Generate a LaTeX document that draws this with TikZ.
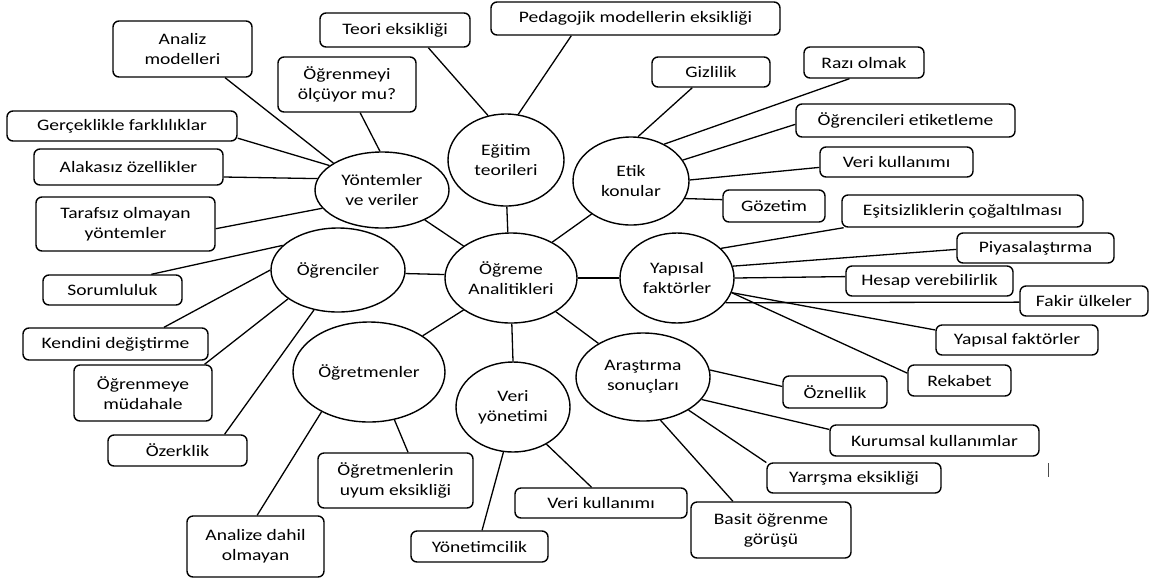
\documentclass[tikz,border=0pt]{standalone}
\usepackage{fontspec}
\setmainfont{Carlito}[FakeStretch=1.22]
\usetikzlibrary{shapes.geometric}
\tikzset{
  ell/.style={ellipse, draw, line width=1.4pt, inner sep=0pt, align=center, font=\fontsize{16}{20}\selectfont},
  box/.style={rectangle, rounded corners=6pt, draw, line width=1.4pt, inner sep=0pt, align=center, font=\fontsize{16}{20}\selectfont},
  link/.style={line width=1.3pt},
}
\begin{document}
\begin{tikzpicture}[x=1pt,y=-1pt]
\useasboundingbox (0,0) rectangle (1158,582);
% ellipses
\node[ell, minimum width=132, minimum height=90] (oa) at (511,278) {Öğreme\\Analitikleri};
\node[ell, minimum width=114, minimum height=90] (yap) at (677,278) {Yapısal\\faktörler};
\node[ell, minimum width=116, minimum height=92] (egt) at (506,160) {Eğitim\\teorileri};
\node[ell, minimum width=116, minimum height=88] (etik) at (631,181) {Etik\\konular};
\node[ell, minimum width=134, minimum height=76] (yon) at (382,190) {Yöntemler\\ve veriler};
\node[ell, minimum width=134, minimum height=84] (ogr) at (338,270) {Öğrenciler};
\node[ell, minimum width=152, minimum height=100] (ogt) at (369,372) {Öğretmenler};
\node[ell, minimum width=114, minimum height=90] (veri) at (513,407) {Veri\\yönetimi};
\node[ell, minimum width=134, minimum height=88] (ara) at (643,377) {Araştırma\\sonuçları};
% boxes
\node[box, minimum width=139, minimum height=56] (analiz) at (182.5,49) {Analiz\\modelleri};
\node[box, minimum width=150, minimum height=34] (teori) at (395,30) {Teori eksikliği};
\node[box, minimum width=138, minimum height=55] (olcuyor) at (347,84.5) {Öğrenmeyi\\ölçüyor mu?};
\node[box, minimum width=289, minimum height=33] (pedag) at (635.5,18.5) {Pedagojik modellerin eksikliği};
\node[box, minimum width=118, minimum height=30] (gizli) at (711,72) {Gizlilik};
\node[box, minimum width=120, minimum height=31] (razi) at (864,62.5) {Razı olmak};
\node[box, minimum width=219, minimum height=33] (etiket) at (905.5,120.5) {Öğrencileri etiketleme};
\node[box, minimum width=153, minimum height=30] (verik1) at (896.5,162) {Veri kullanımı};
\node[box, minimum width=102, minimum height=32] (gozetim) at (774,206) {Gözetim};
\node[box, minimum width=241, minimum height=32] (esit) at (962.5,211) {Eşitsizliklerin çoğaltılması};
\node[box, minimum width=157, minimum height=30] (piya) at (1035.5,248) {Piyasalaştırma};
\node[box, minimum width=167, minimum height=30] (hesap) at (929.5,281) {Hesap verebilirlik};
\node[box, minimum width=128, minimum height=30] (fakir) at (1084,301) {Fakir ülkeler};
\node[box, minimum width=162, minimum height=30] (yapbox) at (1017,340) {Yapısal faktörler};
\node[box, minimum width=103, minimum height=31] (rekabet) at (959.5,380.5) {Rekabet};
\node[box, minimum width=104, minimum height=32] (oznel) at (835,392) {Öznellik};
\node[box, minimum width=209, minimum height=31] (kurum) at (934.5,440.5) {Kurumsal kullanımlar};
\node[box, minimum width=174, minimum height=30] (yarrsma) at (854,478) {Yarrşma eksikliği};
\node[box, minimum width=160, minimum height=56] (basit) at (771,530) {Basit öğrenme\\görüşü};
\node[box, minimum width=172, minimum height=30] (verik2) at (601,503) {Veri kullanımı};
\node[box, minimum width=137, minimum height=31] (yonetim) at (479.5,546.5) {Yönetimcilik};
\node[box, minimum width=155, minimum height=55] (uyum) at (395.5,480.5) {Öğretmenlerin\\uyum eksikliği};
\node[box, minimum width=137, minimum height=61] (analize) at (255.5,546.5) {Analize dahil\\olmayan};
\node[box, minimum width=139, minimum height=31] (ozerk) at (177.5,450.5) {Özerklik};
\node[box, minimum width=138, minimum height=56] (mudah) at (143,393) {Öğrenmeye\\müdahale};
\node[box, minimum width=185, minimum height=32] (kendini) at (115.5,344) {Kendini değiştirme};
\node[box, minimum width=139, minimum height=30] (sorum) at (112.5,290) {Sorumluluk};
\node[box, minimum width=179, minimum height=54] (taraf) at (125.5,224) {Tarafsız olmayan\\yöntemler};
\node[box, minimum width=189, minimum height=36] (alaka) at (128.5,167) {Alakasız özellikler};
\node[box, minimum width=230, minimum height=30] (gercek) at (122,126) {Gerçeklikle farklılıklar};
% connectors
\draw[link] (yon.151) -- (analiz.-34);
\draw[link] (yon.93) -- (olcuyor.-65);
\draw[link] (yon.155) -- (gercek.-6);
\draw[link] (yon.170) -- (alaka.-6);
\draw[link] (yon.-163) -- (taraf.-3);
\draw[link] (yon.-35) -- (oa.146);
\draw[link] (ogr.156) -- (sorum.22);
\draw[link] (ogr.180) -- (kendini.19);
\draw[link] (ogr.-150) -- (mudah.25);
\draw[link] (ogr.-121) -- (ozerk.19);
\draw[link] (ogr.-3) -- (oa.177);
\draw[link] (ogt.-62) -- (uyum.66);
\draw[link] (ogt.-140) -- (analize.87);
\draw[link] (ogt.34) -- (oa.-146);
\draw[link] (egt.112) -- (teori.-28);
\draw[link] (egt.75) -- (pedag.-165);
\draw[link] (egt.-89) -- (oa.94);
\draw[link] (etik.81) -- (gizli.-140);
\draw[link] (etik.48) -- (razi.-132);
\draw[link] (etik.22) -- (etiket.-178);
\draw[link] (etik.1) -- (verik1.-176);
\draw[link] (etik.-18) -- (gozetim.173);
\draw[link] (etik.-140) -- (oa.41);
\draw[link] (yap.34) -- (esit.-172);
\draw[link] (yap.12) -- (piya.-179);
\draw[link] (yap.0) -- (hesap.177);
\draw[link] (yap.-27) -- (fakir.-179);
\draw[link] (yap.-15) -- (yapbox.173);
\draw[link] (yap.-15) -- (rekabet.172);
\draw[link] (yap.180) -- (oa.0);
\draw[link] (ara.6) -- (oznel.174);
\draw[link] (ara.-21) -- (kurum.174);
\draw[link] (ara.-36) -- (yarrsma.170);
\draw[link] (ara.-68) -- (basit.143);
\draw[link] (ara.143) -- (oa.-37);
\draw[link] (veri.-48) -- (verik2.121);
\draw[link] (veri.-102) -- (yonetim.81);
\draw[link] (veri.90) -- (oa.-89);
% stray tick mark
\draw[line width=0.8pt, black!70] (1048,463) -- (1048,477);
\end{tikzpicture}
\end{document}
